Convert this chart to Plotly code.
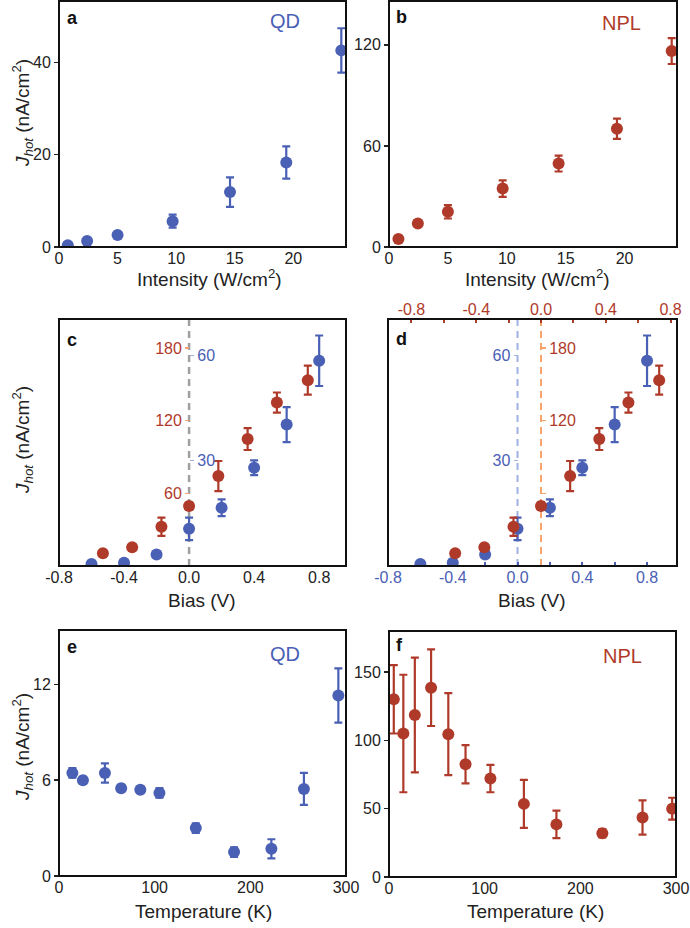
import plotly.graph_objects as go

# ---------------- data ----------------
# (a) QD, intensity dependence
a_intensity = [0.75, 2.4, 5.0, 9.7, 14.6, 19.4, 24.1]
a_jhot = [0.4, 1.3, 2.6, 5.6, 11.9, 18.3, 42.6]
a_err = [0.3, 0.3, 0.4, 1.4, 3.2, 3.5, 4.8]

# (b) NPL, intensity dependence
b_intensity = [0.8, 2.45, 5.0, 9.65, 14.4, 19.35, 24.0]
b_jhot = [4.7, 14.0, 20.9, 34.7, 49.5, 70.2, 116.3]
b_err = [1.0, 1.5, 4.0, 4.9, 4.7, 6.0, 7.7]

# (c, d) bias dependence
bias_qd = [-0.6, -0.4, -0.2, 0.0, 0.2, 0.4, 0.6, 0.8]
jhot_qd_bias = [0.6, 0.9, 3.3, 10.6, 16.6, 28.0, 40.3, 58.5]
err_qd_bias = [0.5, 0.5, 0.8, 3.2, 2.4, 2.1, 5.0, 7.2]
bias_npl = [-0.53, -0.35, -0.17, 0.0, 0.18, 0.36, 0.54, 0.73]
jhot_npl_bias = [10.5, 15.4, 32.4, 49.5, 74.3, 104.8, 135.0, 153.5]
err_npl_bias = [1.5, 2.0, 7.5, 3.0, 12.4, 9.0, 8.3, 12.0]
npl_bias_offset = 0.145  # shift of the NPL (top) axis in panel d

bias_ticks = [-0.8, -0.4, 0.0, 0.4, 0.8]
bias_ticktext = ["-0.8", "-0.4", "0.0", "0.4", "0.8"]
qd_inner_ticks = [30, 60]
npl_inner_ticks = [60, 120, 180]
npl_inner_ticks_d = [120, 180]

# (e) QD, temperature dependence
temp_qd = [14, 25, 48, 65, 85, 105, 143, 183, 222, 256, 292]
jhot_qd_temp = [6.45, 6.0, 6.45, 5.5, 5.4, 5.2, 3.0, 1.5, 1.7, 5.45, 11.3]
err_qd_temp = [0.3, 0.2, 0.6, 0.2, 0.2, 0.3, 0.3, 0.3, 0.6, 1.0, 1.7]

# (f) NPL, temperature dependence
temp_npl = [5, 15, 27, 44, 62, 80, 106, 141, 175, 223, 265, 296]
jhot_npl_temp = [130, 105, 118.5, 138.5, 104.5, 82.5, 72, 53.5, 38.5, 32, 43.5, 50]
err_npl_temp = [25, 43, 42, 28, 30, 14, 10, 17.5, 10, 3, 12.5, 8]

# ---------------- style ----------------
W, H = 690, 928
BLUE = "#4a60b5"
RED = "#b03a2a"
BLUE_LIGHT = "#9fb2e2"
ORANGE_LIGHT = "#f7a46c"
GRAY = "#a0a0a0"
FONT = "Arial, Liberation Sans, sans-serif"
TICK_FS = 16
TITLE_FS = 19


def xd(l, r):
    return [l / W, r / W]


def yd(top, bottom):
    return [1 - bottom / H, 1 - top / H]


def px(x):
    return x / W


def py(y):
    return 1 - y / H


fig = go.Figure()


def pts(x, y, err, color, xa, ya):
    fig.add_trace(go.Scatter(
        x=x, y=y, mode="markers", xaxis=xa, yaxis=ya, showlegend=False,
        hoverinfo="skip",
        marker=dict(size=12, color=color),
        error_y=dict(type="data", array=err, color=color, thickness=2.2, width=4),
    ))


pts(a_intensity, a_jhot, a_err, BLUE, "x", "y")
pts(b_intensity, b_jhot, b_err, RED, "x2", "y2")
pts(bias_npl, jhot_npl_bias, err_npl_bias, RED, "x3", "y4")
pts(bias_qd, jhot_qd_bias, err_qd_bias, BLUE, "x3", "y3")
pts(bias_npl, jhot_npl_bias, err_npl_bias, RED, "x6", "y6")
pts(bias_qd, jhot_qd_bias, err_qd_bias, BLUE, "x5", "y5")
pts(temp_qd, jhot_qd_temp, err_qd_temp, BLUE, "x7", "y7")
pts(temp_npl, jhot_npl_temp, err_npl_temp, RED, "x8", "y8")

base_x = dict(showgrid=False, zeroline=False, showline=False, ticks="",
              automargin=False,
              tickfont=dict(size=TICK_FS, color="#222", family=FONT))
base_y = dict(showgrid=False, zeroline=False, showline=False, ticks="outside",
              automargin=False,
              ticklen=4, tickwidth=1.5, tickcolor="#222",
              tickfont=dict(size=TICK_FS, color="#222", family=FONT))

dom = {
    "a": (xd(59, 346), yd(1, 247)),
    "b": (xd(389, 677), yd(1, 247)),
    "c": (xd(59, 346), yd(319, 566)),
    "d": (xd(388, 677), yd(319, 566)),
    "e": (xd(59, 346), yd(630, 876)),
    "f": (xd(389, 676), yd(631, 877)),
}

c_xrange = [-0.8, 0.965]
d_xrange = [-0.8, 0.985]
d_top_range = [d_xrange[0] - npl_bias_offset, d_xrange[1] - npl_bias_offset]
qd_yrange = [0, 70.4]
npl_yrange = [0, 204]


def zero_pos(domain, rng):
    return domain[0] + (0 - rng[0]) / (rng[1] - rng[0]) * (domain[1] - domain[0])


c_zero = zero_pos(dom["c"][0], c_xrange)
d_zero_blue = zero_pos(dom["d"][0], d_xrange)
d_zero_red = zero_pos(dom["d"][0], d_top_range)

layout = dict(
    width=W, height=H, margin=dict(l=0, r=0, t=0, b=0, autoexpand=False),
    paper_bgcolor="white", plot_bgcolor="white",
    font=dict(family=FONT, color="#222"),
    xaxis=dict(base_x, domain=dom["a"][0], anchor="y", range=[0, 24.5],
               tickvals=[0, 5, 10, 15, 20]),
    yaxis=dict(base_y, domain=dom["a"][1], anchor="x", range=[0, 53.3],
               tickvals=[0, 20, 40]),
    xaxis2=dict(base_x, domain=dom["b"][0], anchor="y2", range=[0, 24.45],
                tickvals=[0, 5, 10, 15, 20]),
    yaxis2=dict(base_y, domain=dom["b"][1], anchor="x2", range=[0, 146],
                tickvals=[0, 60, 120]),
    xaxis3=dict(base_x, domain=dom["c"][0], anchor="y3", range=c_xrange,
                tickvals=bias_ticks, ticktext=bias_ticktext),
    yaxis3=dict(base_y, domain=dom["c"][1], anchor="free", position=c_zero,
                side="right", range=qd_yrange, tickvals=qd_inner_ticks,
                tickcolor=BLUE_LIGHT, ticklen=4,
                tickfont=dict(size=TICK_FS, color=BLUE, family=FONT)),
    yaxis4=dict(base_y, overlaying="y3", anchor="free", position=c_zero,
                side="left", range=npl_yrange, tickvals=npl_inner_ticks,
                tickcolor=ORANGE_LIGHT, ticklen=4,
                tickfont=dict(size=TICK_FS, color=RED, family=FONT)),
    xaxis5=dict(base_x, domain=dom["d"][0], anchor="y5", range=d_xrange,
                tickvals=bias_ticks, ticktext=bias_ticktext,
                ticks="inside", ticklen=4, tickwidth=2, tickcolor=BLUE,
                minor=dict(tick0=0, dtick=0.2, ticks="inside", ticklen=4,
                           tickwidth=2, tickcolor=BLUE, showgrid=False),
                tickfont=dict(size=TICK_FS, color=BLUE, family=FONT)),
    xaxis6=dict(base_x, overlaying="x5", anchor="y5", side="top", range=d_top_range,
                tickvals=bias_ticks, ticktext=bias_ticktext,
                ticks="inside", ticklen=4, tickwidth=2, tickcolor=RED,
                minor=dict(tick0=0, dtick=0.2, ticks="inside", ticklen=4,
                           tickwidth=2, tickcolor=RED, showgrid=False),
                tickfont=dict(size=TICK_FS, color=RED, family=FONT)),
    yaxis5=dict(base_y, domain=dom["d"][1], anchor="free", position=d_zero_blue,
                side="left", range=qd_yrange, tickvals=qd_inner_ticks,
                tickcolor=BLUE_LIGHT, ticklen=4,
                tickfont=dict(size=TICK_FS, color=BLUE, family=FONT)),
    yaxis6=dict(base_y, overlaying="y5", anchor="free", position=d_zero_red,
                side="right", range=npl_yrange, tickvals=npl_inner_ticks_d,
                tickcolor=ORANGE_LIGHT, ticklen=4,
                minor=dict(tick0=0, dtick=60, ticks="outside", ticklen=4,
                           tickwidth=1.5, tickcolor=ORANGE_LIGHT, showgrid=False),
                tickfont=dict(size=TICK_FS, color=RED, family=FONT)),
    xaxis7=dict(base_x, domain=dom["e"][0], anchor="y7", range=[0, 300],
                tickvals=[0, 100, 200, 300]),
    yaxis7=dict(base_y, domain=dom["e"][1], anchor="x7", range=[0, 15.4],
                tickvals=[0, 6, 12]),
    xaxis8=dict(base_x, domain=dom["f"][0], anchor="y8", range=[0, 300],
                tickvals=[0, 100, 200, 300]),
    yaxis8=dict(base_y, domain=dom["f"][1], anchor="x8", range=[0, 180],
                tickvals=[0, 50, 100, 150]),
)
fig.update_layout(**layout)

# reference lines at zero bias
fig.add_shape(type="line", xref="x3", yref="y3 domain", x0=0, x1=0, y0=0, y1=1,
              line=dict(color=GRAY, width=2.5, dash="7px,5px"), layer="below")
fig.add_shape(type="line", xref="x5", yref="y5 domain", x0=0, x1=0, y0=0, y1=1,
              line=dict(color=BLUE_LIGHT, width=2, dash="7px,5px"), layer="below")
fig.add_shape(type="line", xref="x6", yref="y5 domain", x0=0, x1=0, y0=0, y1=1,
              line=dict(color=ORANGE_LIGHT, width=2, dash="7px,5px"), layer="below")

# frames
for xa, ya in [("x", "y"), ("x2", "y2"), ("x3", "y3"), ("x5", "y5"), ("x7", "y7"), ("x8", "y8")]:
    fig.add_shape(type="rect", xref=f"{xa} domain", yref=f"{ya} domain",
                  x0=0, x1=1, y0=0, y1=1, line=dict(color="#111", width=2),
                  layer="above")

ann = []
jtitle = "<i>J</i><sub><i>hot</i></sub> (nA/cm<sup>2</sup>)"
for yc in [113, 440, 747]:
    ann.append(dict(text=jtitle, x=px(22), y=py(yc), xref="paper", yref="paper",
                    textangle=-90, showarrow=False, xanchor="center", yanchor="middle",
                    font=dict(size=TITLE_FS, color="#222", family=FONT)))
for t, xc, yc in [("Intensity (W/cm<sup>2</sup>)", 209, 278),
                  ("Intensity (W/cm<sup>2</sup>)", 537, 278),
                  ("Bias (V)", 202, 600), ("Bias (V)", 532, 600),
                  ("Temperature (K)", 203, 911), ("Temperature (K)", 535, 911)]:
    ann.append(dict(text=t, x=px(xc), y=py(yc), xref="paper", yref="paper",
                    showarrow=False, xanchor="center", yanchor="middle",
                    font=dict(size=TITLE_FS, color="#222", family=FONT)))
for t, xl, yc in [("a", 65, 18), ("b", 394, 17), ("c", 65, 340),
                  ("d", 394, 339), ("e", 65, 647), ("f", 394, 645)]:
    ann.append(dict(text=f"<b>{t}</b>", x=px(xl), y=py(yc), xref="paper", yref="paper",
                    showarrow=False, xanchor="left", yanchor="middle",
                    font=dict(size=18, color="#111", family=FONT)))
for t, col, xc, yc in [("QD", BLUE, 285, 21), ("NPL", RED, 621, 23),
                       ("QD", BLUE, 285, 654), ("NPL", RED, 622, 656)]:
    ann.append(dict(text=t, x=px(xc), y=py(yc), xref="paper", yref="paper",
                    showarrow=False, xanchor="center", yanchor="middle",
                    font=dict(size=20, color=col, family=FONT)))
fig.update_layout(annotations=ann)

# remove the browser's default page margin so the figure starts at the corner
fig.write_html("out.html",
               config={"displayModeBar": False, "staticPlot": True},
               post_script="document.body.style.margin='0px';"
                           "document.body.style.overflow='hidden';")
